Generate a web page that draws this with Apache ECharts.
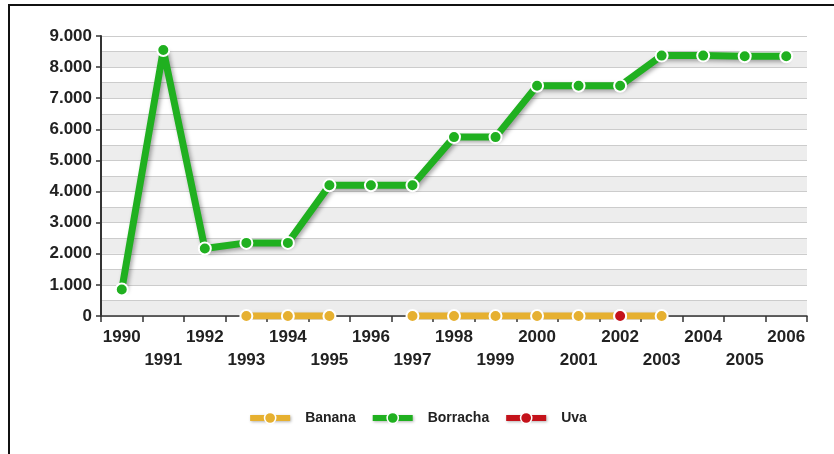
<!DOCTYPE html>
<html>
<head>
<meta charset="utf-8">
<script src="https://cdn.jsdelivr.net/npm/echarts@6/dist/echarts.min.js"></script>
<style>
  html, body { margin: 0; padding: 0; background: #fff; }
  #chart { width: 834px; height: 454px; }
</style>
</head>
<body>
<div id="chart"></div>
<script>
// Years on the category axis
const years = ['1990','1991','1992','1993','1994','1995','1996','1997','1998',
               '1999','2000','2001','2002','2003','2004','2005','2006'];

// Series values per year (null = no value that year)
const banana   = [null, null, null, 0, 0, 0, null, 0, 0, 0, 0, 0, 0, 0, null, null, null];
const borracha = [850, 8550, 2170, 2350, 2350, 4200, 4200, 4200, 5750, 5750,
                  7400, 7400, 7400, 8370, 8370, 8350, 8350];
const uva      = [null, null, null, null, null, null, null, null, null, null,
                  null, null, 0, null, null, null, null];

const yMin = 0, yMax = 9000, yStep = 1000, bandStep = 500;

const FONT = "'Liberation Sans', Arial, sans-serif";
const fmtThousands = v => String(v).replace(/\B(?=(\d{3})+(?!\d))/g, '.');

const chart = echarts.init(document.getElementById('chart'), null, { renderer: 'canvas' });

function lineSeries(name, data, color) {
  return {
    name: name,
    type: 'line',
    data: data,
    connectNulls: false,
    symbol: 'circle',
    symbolSize: 12,
    showAllSymbol: true,
    itemStyle: { color: color, borderColor: '#ffffff', borderWidth: 2 },
    lineStyle: {
      color: color, width: 7,
      shadowColor: 'rgba(0,0,0,0.35)', shadowBlur: 4, shadowOffsetX: 2, shadowOffsetY: 2
    },
    emphasis: { disabled: true },
    animation: false
  };
}

chart.setOption({
  animation: false,
  grid: { left: 101, right: 27, top: 36, bottom: 138 },
  graphic: [
    { type: 'line', shape: { x1: 8, y1: 5, x2: 834, y2: 5 },
      style: { stroke: '#111', lineWidth: 2 }, z: 10 },
    { type: 'line', shape: { x1: 9, y1: 5, x2: 9, y2: 454 },
      style: { stroke: '#111', lineWidth: 2 }, z: 10 }
  ],
  legend: {
    left: 'center',
    top: 406,
    itemWidth: 40,
    itemHeight: 14,
    itemGap: 14,
    lineStyle: {
      width: 6,
      shadowColor: 'rgba(0,0,0,0.3)', shadowBlur: 3, shadowOffsetX: 1, shadowOffsetY: 1
    },
    itemStyle: { borderColor: '#ffffff', borderWidth: 1.5 },
    textStyle: {
      fontFamily: FONT, fontSize: 14, fontWeight: 'bold', color: '#222',
      padding: [0, 0, 0, 10]
    },
    data: ['Banana', 'Borracha', 'Uva']
  },
  xAxis: {
    type: 'category',
    data: years,
    boundaryGap: true,
    axisLine: { lineStyle: { color: '#333', width: 1.5 } },
    axisTick: { show: true, length: 6, lineStyle: { color: '#333', width: 1.5 } },
    axisLabel: {
      interval: 0,
      margin: 10,
      fontFamily: FONT, fontSize: 17, fontWeight: 'bold', color: '#222',
      lineHeight: 23,
      formatter: (v, i) => (i % 2 === 1 ? '\n' + v : v)
    },
    splitLine: { show: false }
  },
  yAxis: [
    {
      // banded background every 500
      type: 'value', min: yMin, max: yMax, interval: bandStep,
      axisLine: { show: false }, axisTick: { show: false }, axisLabel: { show: false },
      splitLine: { show: true, lineStyle: { color: '#cccccc', width: 1 } },
      splitArea: { show: true, areaStyle: { color: ['#ededed', '#ffffff'] } }
    },
    {
      // labelled axis every 1000
      type: 'value', min: yMin, max: yMax, interval: yStep, position: 'left',
      axisLine: { show: true, lineStyle: { color: '#333', width: 2 } },
      axisTick: { show: true, length: 5, lineStyle: { color: '#333', width: 1.5 } },
      axisLabel: {
        margin: 9,
        fontFamily: FONT, fontSize: 17, fontWeight: 'bold', color: '#222',
        formatter: v => fmtThousands(v)
      },
      splitLine: { show: false }, splitArea: { show: false }
    }
  ],
  series: [
    lineSeries('Banana', banana, '#e6b030'),
    lineSeries('Borracha', borracha, '#20b020'),
    lineSeries('Uva', uva, '#c4121a')
  ]
});
</script>
</body>
</html>
